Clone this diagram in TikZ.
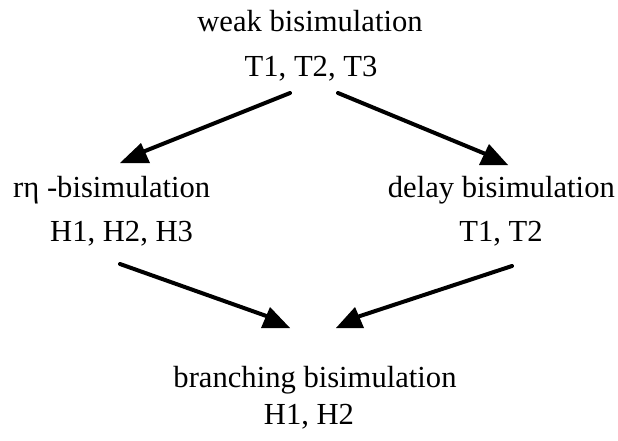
\documentclass[tikz,border=0pt]{standalone}
\usepackage{fontspec}
\setmainfont{Liberation Serif}
\begin{document}
\begin{tikzpicture}[x=1pt,y=-1pt,
  lbl/.style={inner sep=0pt,font=\fontsize{30.6}{36}\selectfont},
  conn/.style={line width=4pt,line cap=round},
  headfill/.style={fill=black}]
\useasboundingbox (0,0) rectangle (618,440);
% labels
\node[lbl,anchor=base] (weak) at (310,31) {weak bisimulation};
\node[lbl,anchor=base] (weakT) at (311,76) {T1, T2, T3};
\node[lbl,anchor=base west] (reta) at (13,197) {rη -bisimulation};
\node[lbl,anchor=base west] (retaH) at (50,241) {H1, H2, H3};
\node[lbl,anchor=base east] (delay) at (615,197) {delay bisimulation};
\node[lbl,anchor=base] (delayT) at (501,241) {T1, T2};
\node[lbl,anchor=base] (branch) at (315,387) {branching bisimulation};
\node[lbl,anchor=base] (branchH) at (309,424) {H1, H2};
% connector end points
\coordinate (s1) at (290,93);
\coordinate (e1) at (140,153);
\coordinate (s2) at (338,93);
\coordinate (e2) at (488,155);
\coordinate (s3) at (120,264);
\coordinate (e3) at (272,318);
\coordinate (s4) at (512,266);
\coordinate (e4) at (354,318);
\draw[conn] (s1) -- (e1);
\draw[conn] (s2) -- (e2);
\draw[conn] (s3) -- (e3);
\draw[conn] (s4) -- (e4);
% arrowheads
\fill[headfill] (141,143) -- (120,163) -- (150,163) -- cycle;
\fill[headfill] (489,144) -- (479,165) -- (508,165) -- cycle;
\fill[headfill] (270,307) -- (261,328) -- (290,328) -- cycle;
\fill[headfill] (355,307) -- (336,328) -- (364,328) -- cycle;
\end{tikzpicture}
\end{document}
